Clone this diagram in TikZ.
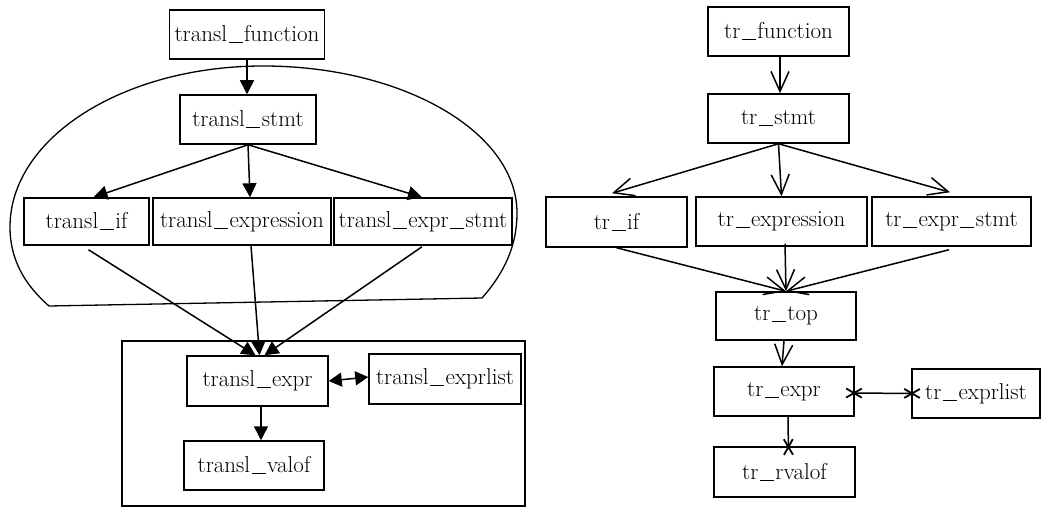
\documentclass[tikz,border=0pt]{standalone}
\usetikzlibrary{arrows.meta}
\newcommand\us{\kern1.5pt\rule[-1.6pt]{14pt}{1.2pt}\kern1.5pt}
\begin{document}
\begin{tikzpicture}[x=1pt,y=-1pt,
  box/.style={draw, line width=1.5pt, inner sep=0pt, minimum height=49pt, font=\fontsize{23}{27}\selectfont},
  edge/.style={line width=1.5pt},
  fill head/.style={edge, -{Triangle[length=14pt,width=14pt]}},
  both fill/.style={edge, {Triangle[length=13pt,width=14pt]}-{Triangle[length=13pt,width=14pt]}},
  vee head/.style={edge, -{Straight Barb[length=20pt,width=18pt,line width=1.5pt]}},
  cross both/.style={edge, {Rays[n=6,length=18pt,width=18pt,line width=1.8pt]}-{Rays[n=6,length=18pt,width=18pt,line width=1.8pt]}},
  cross head/.style={edge, -{Rays[n=6,length=18pt,width=18pt,line width=1.8pt]}}]
\useasboundingbox (0,0) rectangle (1041,508);

% ---------- left graph ----------
\draw[line width=1.3pt] (482,298) .. controls (505,272) and (517,245) .. (517,213)
  .. controls (517,132) and (403,66) .. (263,66)
  .. controls (123,66) and (10,138) .. (10,227)
  .. controls (10,260) and (25,285) .. (49,306) -- cycle;
\draw[line width=1.5pt] (122,341) rectangle (525,506);

\node[box, minimum width=155pt] (lfun) at (247,34.5) {transl\us function};
\node[box, minimum width=136pt] (lstmt) at (248,119.5) {transl\us stmt};
\node[box, minimum width=125pt, minimum height=47pt] (lif) at (86.5,221.5) {transl\us if};
\node[box, minimum width=178pt, minimum height=47pt] (lexpression) at (242,221.5) {transl\us expression};
\node[box, minimum width=178pt, minimum height=47pt] (lexprstmt) at (423,221.5) {transl\us expr\us stmt};
\node[box, minimum width=141pt, minimum height=50pt] (lexpr) at (257.5,381) {transl\us expr};
\node[box, minimum width=152pt, minimum height=50pt] (lexprlist) at (445,379) {transl\us exprlist};
\node[box, minimum width=140pt] (lvalof) at (254,465.5) {transl\us valof};

\draw[fill head] (lfun.south) -- (lfun.south |- lstmt.north);
\draw[fill head] (lstmt.south) -- ([xshift=7pt]lif.north);
\draw[fill head] (lstmt.south) -- ([xshift=8pt]lexpression.north);
\draw[fill head] (lstmt.south) -- ([xshift=-1pt]lexprstmt.north);
\draw[fill head] ([xshift=2pt,yshift=-4pt]lif.south) -- ([xshift=-2pt]lexpr.north);
\draw[fill head] ([xshift=9pt]lexpression.south) -- ([xshift=2pt]lexpr.north);
\draw[fill head] ([xshift=-1pt,yshift=-1pt]lexprstmt.south) -- ([xshift=7pt]lexpr.north);
\draw[both fill] (lexpr.east) -- ([yshift=2pt]lexprlist.west);
\draw[fill head] ([xshift=3.5pt]lexpr.south) -- ([xshift=7pt]lvalof.north);

% ---------- right graph ----------
\node[box, minimum width=141pt] (rfun) at (778.5,31.5) {tr\us function};
\node[box, minimum width=141pt] (rstmt) at (778.5,118.5) {tr\us stmt};
\node[box, minimum width=141pt, minimum height=50pt] (rif) at (616.5,222) {tr\us if};
\node[box, minimum width=171pt] (rexpression) at (781.5,221.5) {tr\us expression};
\node[box, minimum width=159pt] (rexprstmt) at (951.5,221.5) {tr\us expr\us stmt};
\node[box, minimum width=140pt, minimum height=48pt] (rtop) at (786,316) {tr\us top};
\node[box, minimum width=140pt] (rexpr) at (784,391.5) {tr\us expr};
\node[box, minimum width=128pt] (rexprlist) at (976,393.5) {tr\us exprlist};
\node[box, minimum width=141pt, minimum height=50pt] (rvalof) at (784.5,472) {tr\us rvalof};

\draw[vee head] ([xshift=1.5pt]rfun.south) -- ([xshift=1.5pt]rstmt.north);
\draw[vee head] (rstmt.south) -- ([xshift=-4.5pt,yshift=3pt]rif.north);
\draw[vee head] (rstmt.south) -- (rexpression.north);
\draw[vee head] (rstmt.south) -- ([xshift=-1.5pt,yshift=4pt]rexprstmt.north);
\draw[vee head] (rif.south) -- (rtop.north);
\draw[vee head] ([xshift=3.5pt,yshift=3pt]rexpression.south) -- (rtop.north);
\draw[vee head] ([xshift=-2.5pt,yshift=-3pt]rexprstmt.south) -- (rtop.north);
\draw[vee head] ([xshift=-2pt]rtop.south) -- ([xshift=-2pt]rexpr.north);
\draw[cross both] ([xshift=-9pt,yshift=-1.5pt]rexpr.east) -- ([xshift=9pt]rexprlist.west);
\draw[cross head] ([xshift=4pt]rexpr.south) -- ([xshift=4pt,yshift=-9pt]rvalof.north);
\end{tikzpicture}
\end{document}
